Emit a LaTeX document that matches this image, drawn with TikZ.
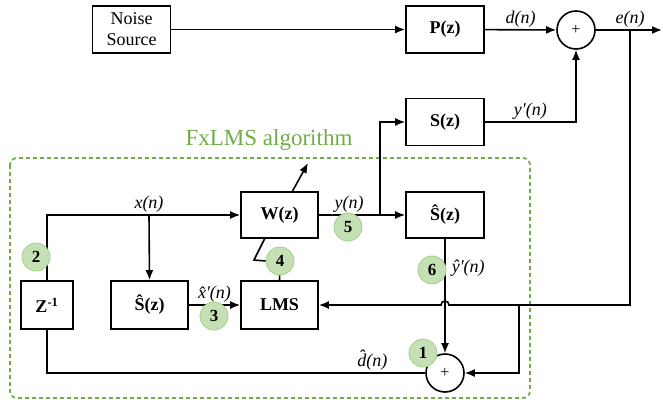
\documentclass[tikz,border=0pt]{standalone}
\usepackage{fontspec}
\setmainfont{Liberation Serif}
\usetikzlibrary{arrows.meta}
\definecolor{fxgreen}{HTML}{70AD47}
\definecolor{passofill}{HTML}{C5E0B4}
\definecolor{passodraw}{HTML}{A9D18E}
\tikzset{
  blocco/.style={draw, line width=1.7pt, minimum width=78pt, minimum height=47pt, inner sep=0pt,
    font=\fontsize{18}{21}\selectfont\bfseries, align=center},
  somma/.style={draw, circle, line width=1.6pt, minimum size=38pt, inner sep=0pt,
    font=\fontsize{16}{18}\selectfont},
  passo/.style={circle, fill=passofill, draw=passodraw, line width=0.9pt, minimum size=28pt,
    inner sep=0pt, font=\fontsize{17}{19}\selectfont\bfseries},
  segnale/.style={font=\fontsize{18}{20}\selectfont\itshape, inner sep=2pt},
  freccia/.style={-{Latex[length=10pt,width=8pt]}},
}
\begin{document}
\begin{tikzpicture}[x=1pt, y=-1pt, line width=1.6pt]
			\useasboundingbox (0,0) rectangle (663,404);
			% riquadro FxLMS
			\draw[fxgreen, dash pattern=on 4pt off 3pt, line width=1.8pt, rounded corners=7pt] (10,158) rectangle (530,398);
			\node[text=fxgreen, font=\fontsize{23}{25}\selectfont] (titolo) at (269,140) {FxLMS algorithm};
			% blocchi
			\node[blocco, font=\fontsize{18}{21}\selectfont] (rumore) at (131.5,29.5) {Noise\\Source};
			\node[blocco] (pz) at (445,29.5) {P(z)};
			\node[blocco] (sz) at (445,122) {S(z)};
			\node[blocco, minimum width=77pt, minimum height=46pt] (wz) at (279.5,215) {W(z)};
			\node[blocco, minimum height=46pt] (shatb) at (445,215) {Ŝ(z)};
			\node[blocco, minimum width=52pt, minimum height=48pt] (zinv) at (47,305) {Z\textsuperscript{-1}};
			\node[blocco, minimum width=77pt, minimum height=48pt] (shata) at (149.5,305) {Ŝ(z)};
			\node[blocco, minimum width=77pt, minimum height=48pt] (lms) at (279.5,305) {LMS};
			% sommatori
			\node[somma] (sommae) at (576,30) {+};
			\node[somma] (sommad) at (445,373) {+};
			% punti di diramazione
			\coordinate (eout) at (662,30);
			\coordinate (ebranch) at (630,30);
			\coordinate (eturn) at (630,305);
			\coordinate (saltodx) at (449,305);
			\coordinate (fbranch) at (519,305);
			\coordinate (ybranch) at (380,215);
			\coordinate (xbranch) at (149,215);
			\coordinate (wattacco) at (265,238);
			\coordinate (wgomito) at (254,260);
			\coordinate (wbase) at (292,192);
			\coordinate (wpunta) at (308,163);
			% percorso primario
			\draw[freccia] (rumore) -- (pz);
			\draw[freccia] (pz) -- node[segnale, above] (lbld) {d(n)} (sommae);
			\draw[freccia] (sommae) -- (eout);
			\node[segnale, above] (lble) at (ebranch) {e(n)};
			\draw[freccia] (sz.east) -| node[segnale, pos=0.25, above] (lblys) {y′(n)} (sommae.south);
			% filtro adattivo
			\draw[freccia] (zinv.north) |- (wz.west);
			\node[segnale, above] (lblx) at (xbranch) {x(n)};
			\draw[freccia] (xbranch) -- (shata.north);
			\draw[freccia] (shata) -- node[segnale, above] (lblxs) {\^{x}′(n)} (lms);
			\draw[freccia] (wz) -- node[segnale, pos=0.35, above] (lbly) {y(n)} (shatb);
			\draw[freccia] (ybranch) |- (sz.west);
			\draw[freccia] (wbase) -- (wpunta);
			\draw[freccia] (shatb) -- node[segnale, pos=0.26, right, inner sep=6pt] (lblyh) {ŷ′(n)} (sommad.north);
			\draw (zinv.south) |- node[segnale, pos=0.93, above] (lbldh) {\^{d}(n)} (sommad.west);
			% errore verso LMS
			\draw[freccia] (ebranch) -- (eturn) -- (saltodx) arc[start angle=0, end angle=180, radius=4pt] -- (lms.east);
			\draw[freccia] (fbranch) |- (sommad.east);
			% aggiornamento pesi
			\node[passo] (p4) at (280,261) {4};
			\draw (wattacco) -- (wgomito) -- (p4.west);
			\draw (p4) -- (lms.north);
			% passi numerati
			\node[passo] (p1) at (423,353) {1};
			\node[passo] (p2) at (36,257) {2};
			\node[passo] (p3) at (214,316) {3};
			\node[passo] (p5) at (348,227) {5};
			\node[passo] (p6) at (432,270) {6};
\end{tikzpicture}
\end{document}
